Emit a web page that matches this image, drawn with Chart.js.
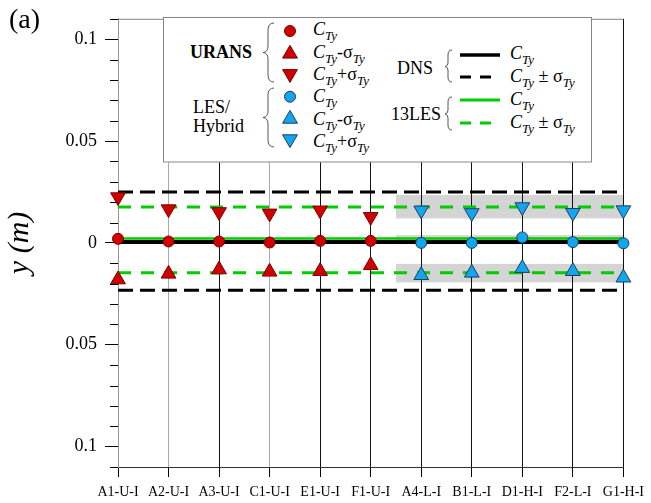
<!DOCTYPE html>
<html>
<head>
<meta charset="utf-8">
<script src="https://cdn.jsdelivr.net/npm/chart.js@4.4.0/dist/chart.umd.min.js"></script>
<style>
  html, body { margin: 0; padding: 0; background: #fff; }
  #wrap { position: relative; width: 651px; height: 503px; overflow: hidden; }
  #c { position: absolute; left: 0; top: 0; }
  #tag { position: absolute; left: 9px; top: 5px; font: 28px 'Liberation Serif', 'Times New Roman', serif; color: #000; line-height: 1; }
  #lg { position: absolute; left: 0; top: 0; }
</style>
</head>
<body>
<div id="wrap">
  <canvas id="c" width="651" height="503"></canvas>
  <div id="tag">(a)</div>
  <svg id="lg" width="651" height="503" xmlns="http://www.w3.org/2000/svg"
       font-family="'Liberation Serif','Times New Roman',serif" fill="#000">
    <rect x="163.5" y="17.5" width="428" height="144.5" fill="#fff" stroke="#888" stroke-width="1"/>

    <!-- URANS group -->
    <text x="190" y="58" font-size="18" font-weight="bold">URANS</text>
    <path d="M274 23 Q268 23 268 30 L268 46 Q268 52 263 52.5 Q268 53 268 59 L268 75 Q268 82 274 82" fill="none" stroke="#555" stroke-width="1"/>
    <circle cx="290" cy="31" r="5.5" fill="#d00000" stroke="#7a0000" stroke-width="1"/>
    <polygon points="290,45.3 297.4,58.1 282.6,58.1" fill="#d00000" stroke="#7a0000" stroke-width="1"/>
    <polygon points="290,82.4 297.4,69.6 282.6,69.6" fill="#d00000" stroke="#7a0000" stroke-width="1"/>
    <text x="313" y="35" font-size="18"><tspan font-style="italic">C</tspan><tspan font-style="italic" font-size="13" dy="5">Ty</tspan></text>
    <text x="313" y="58" font-size="18"><tspan font-style="italic">C</tspan><tspan font-style="italic" font-size="13" dy="5">Ty</tspan><tspan dy="-5">-σ</tspan><tspan font-style="italic" font-size="13" dy="5">Ty</tspan></text>
    <text x="313" y="80" font-size="18"><tspan font-style="italic">C</tspan><tspan font-style="italic" font-size="13" dy="5">Ty</tspan><tspan dy="-5">+σ</tspan><tspan font-style="italic" font-size="13" dy="5">Ty</tspan></text>

    <!-- LES/Hybrid group -->
    <text x="193" y="113" font-size="18">LES/</text>
    <text x="193" y="132" font-size="18">Hybrid</text>
    <path d="M274 88 Q268 88 268 95 L268 111 Q268 117 263 117.5 Q268 118 268 124 L268 140 Q268 147 274 147" fill="none" stroke="#555" stroke-width="1"/>
    <circle cx="290" cy="96.7" r="5.5" fill="#12a6ee" stroke="#1d3d5c" stroke-width="1"/>
    <polygon points="290,110.4 297.4,123.2 282.6,123.2" fill="#12a6ee" stroke="#1d3d5c" stroke-width="1"/>
    <polygon points="290,147.6 297.4,134.8 282.6,134.8" fill="#12a6ee" stroke="#1d3d5c" stroke-width="1"/>
    <text x="313" y="102" font-size="18"><tspan font-style="italic">C</tspan><tspan font-style="italic" font-size="13" dy="5">Ty</tspan></text>
    <text x="313" y="124.5" font-size="18"><tspan font-style="italic">C</tspan><tspan font-style="italic" font-size="13" dy="5">Ty</tspan><tspan dy="-5">-σ</tspan><tspan font-style="italic" font-size="13" dy="5">Ty</tspan></text>
    <text x="313" y="147" font-size="18"><tspan font-style="italic">C</tspan><tspan font-style="italic" font-size="13" dy="5">Ty</tspan><tspan dy="-5">+σ</tspan><tspan font-style="italic" font-size="13" dy="5">Ty</tspan></text>

    <!-- DNS and 13LES reference lines -->
    <text x="397" y="74" font-size="18">DNS</text>
    <path d="M452 50 Q448 50 448 55 L448 63 Q448 66 445 66.5 Q448 67 448 70 L448 77 Q448 82 452 82" fill="none" stroke="#555" stroke-width="1"/>
    <line x1="460" y1="55" x2="500" y2="55" stroke="#000" stroke-width="3.5"/>
    <line x1="460" y1="77" x2="492" y2="77" stroke="#000" stroke-width="3" stroke-dasharray="11 9"/>
    <text x="510" y="59" font-size="18"><tspan font-style="italic">C</tspan><tspan font-style="italic" font-size="13" dy="5">Ty</tspan></text>
    <text x="510" y="82" font-size="18"><tspan font-style="italic">C</tspan><tspan font-style="italic" font-size="13" dy="5">Ty</tspan><tspan dy="-5"> ± σ</tspan><tspan font-style="italic" font-size="13" dy="5">Ty</tspan></text>

    <text x="391" y="120" font-size="18">13LES</text>
    <path d="M452 97 Q448 97 448 102 L448 110 Q448 113.5 445 114 Q448 114.5 448 118 L448 125 Q448 130 452 130" fill="none" stroke="#555" stroke-width="1"/>
    <line x1="460" y1="100" x2="500" y2="100" stroke="#00cc00" stroke-width="3"/>
    <line x1="460" y1="123" x2="492" y2="123" stroke="#00cc00" stroke-width="3" stroke-dasharray="11 9"/>
    <text x="510" y="105" font-size="18"><tspan font-style="italic">C</tspan><tspan font-style="italic" font-size="13" dy="5">Ty</tspan></text>
    <text x="510" y="128" font-size="18"><tspan font-style="italic">C</tspan><tspan font-style="italic" font-size="13" dy="5">Ty</tspan><tspan dy="-5"> ± σ</tspan><tspan font-style="italic" font-size="13" dy="5">Ty</tspan></text>
  </svg>
</div>
<script>
// Test cases along the x axis
const categories = ['A1-U-I', 'A2-U-I', 'A3-U-I', 'C1-U-I', 'E1-U-I', 'F1-U-I',
                    'A4-L-I', 'B1-L-I', 'D1-H-I', 'F2-L-I', 'G1-H-I'];

// URANS cases: mean C_Ty and C_Ty -/+ sigma (m)
const uransCases = ['A1-U-I', 'A2-U-I', 'A3-U-I', 'C1-U-I', 'E1-U-I', 'F1-U-I'];
const uransMean  = [0.0020, 0.0007, 0.0007, 0.0002, 0.0010, 0.0010];
const uransMinus = [-0.0180, -0.0152, -0.0131, -0.0142, -0.0139, -0.0110];
const uransPlus  = [0.0225, 0.0166, 0.0152, 0.0145, 0.0160, 0.0128];

// LES / hybrid cases
const lesCases = ['A4-L-I', 'B1-L-I', 'D1-H-I', 'F2-L-I', 'G1-H-I'];
const lesMean  = [0.0000, 0.0000, 0.0027, 0.0004, -0.0002];
const lesMinus = [-0.0159, -0.0147, -0.0124, -0.0139, -0.0171];
const lesPlus  = [0.0160, 0.0147, 0.0176, 0.0148, 0.0161];

// Reference levels: DNS and the 13-LES ensemble (mean, +sigma, -sigma)
const dnsLevels   = [0.0005, 0.0250, -0.0232];
const les13Levels = [0.0022, 0.0176, -0.0146];

// Shaded spread of the LES/hybrid results: [top, bottom] in m, over x from..to
const shadeRanges = [[0.0235, 0.0120], [0.0038, -0.0006], [-0.0103, -0.0194]];
const shadeFrom = 5.5;
const shadeTo = 10;

// Tick settings
const yTickStep = 0.01;
const yLabelEvery = 5;   // label every 0.05 m

const SERIF = "'Liberation Serif', 'Times New Roman', serif";
const RED = '#d00000', RED_EDGE = '#7a0000';
const BLUE = '#12a6ee', BLUE_EDGE = '#1d3d5c';
const GREEN = '#00cc00';

const gridColors = ['#9a9a9a', '#aaaaaa', '#111111', '#aaaaaa', '#111111', '#111111',
                    '#111111', '#111111', '#111111', '#111111', '#111111'];

const pts = (cases, vals) => cases.map((c, i) => ({ x: categories.indexOf(c), y: vals[i] }));
const hline = (v) => [{ x: 0, y: v }, { x: categories.length - 1, y: v }];
const isMajor = (v) => Math.abs(Math.round(v / yTickStep)) % yLabelEvery === 0;

function markerSet(label, data, color, edge, style, rotation, radius) {
  return {
    label, data, showLine: false, clip: false, order: 0,
    pointStyle: style, rotation, pointRadius: radius, pointHoverRadius: radius,
    pointBackgroundColor: color, pointBorderColor: edge, pointBorderWidth: 1
  };
}
function lineSet(label, v, color, width, dash) {
  return {
    label, data: hline(v), showLine: true, pointRadius: 0, order: 5,
    borderColor: color, borderWidth: width, borderDash: dash || [], fill: false
  };
}

const frame = {
  id: 'frame',
  beforeDraw(chart) {
    const { ctx, scales: { x, y } } = chart;
    ctx.save();
    ctx.fillStyle = '#d4d4d4';
    shadeRanges.forEach(([top, bot]) => {
      const x0 = x.getPixelForValue(shadeFrom), x1 = x.getPixelForValue(shadeTo);
      const y0 = y.getPixelForValue(top), y1 = y.getPixelForValue(bot);
      ctx.fillRect(x0, y0, x1 - x0, y1 - y0);
    });
    ctx.restore();
  },
  afterDraw(chart) {
    const { ctx, chartArea: a, scales: { y } } = chart;
    ctx.save();
    ctx.strokeStyle = '#888';
    ctx.lineWidth = 1;
    ctx.beginPath();
    ctx.moveTo(a.left, a.top + 0.5);
    ctx.lineTo(a.right, a.top + 0.5);
    ctx.stroke();
    // minor ticks on the y axis
    ctx.strokeStyle = '#000';
    y.ticks.forEach((t) => {
      if (isMajor(t.value)) return;
      const py = Math.round(y.getPixelForValue(t.value)) + 0.5;
      ctx.beginPath();
      ctx.moveTo(a.left - 8, py);
      ctx.lineTo(a.left, py);
      ctx.stroke();
    });
    ctx.restore();
  }
};

new Chart(document.getElementById('c'), {
  type: 'scatter',
  data: {
    datasets: [
      markerSet('URANS C', pts(uransCases, uransMean), RED, RED_EDGE, 'circle', 0, 5.5),
      markerSet('URANS C-s', pts(uransCases, uransMinus), RED, RED_EDGE, 'triangle', 0, 8.5),
      markerSet('URANS C+s', pts(uransCases, uransPlus), RED, RED_EDGE, 'triangle', 180, 8.5),
      markerSet('LES C', pts(lesCases, lesMean), BLUE, BLUE_EDGE, 'circle', 0, 5.5),
      markerSet('LES C-s', pts(lesCases, lesMinus), BLUE, BLUE_EDGE, 'triangle', 0, 8.5),
      markerSet('LES C+s', pts(lesCases, lesPlus), BLUE, BLUE_EDGE, 'triangle', 180, 8.5),
      lineSet('13LES mean', les13Levels[0], GREEN, 2.5),
      lineSet('13LES +s', les13Levels[1], GREEN, 3, [13, 10]),
      lineSet('13LES -s', les13Levels[2], GREEN, 3, [13, 10]),
      lineSet('DNS mean', dnsLevels[0], '#000', 4),
      lineSet('DNS +s', dnsLevels[1], '#000', 3, [15, 7]),
      lineSet('DNS -s', dnsLevels[2], '#000', 3, [15, 7])
    ]
  },
  options: {
    responsive: false,
    animation: false,
    events: [],
    layout: { padding: { left: 0, top: 13, right: 23, bottom: 0 } },
    plugins: { legend: { display: false }, tooltip: { enabled: false } },
    scales: {
      x: {
        type: 'linear',
        min: 0,
        max: categories.length - 1,
        afterFit: (s) => { s.height = 36; },
        afterBuildTicks: (s) => { s.ticks = categories.map((_, i) => ({ value: i })); },
        ticks: {
          autoSkip: false, maxRotation: 0, padding: 7, color: '#000',
          font: { family: SERIF, size: 14 },
          callback: (v) => categories[v]
        },
        grid: {
          color: (ctx) => gridColors[ctx.index] || '#111',
          lineWidth: 1, drawTicks: true, tickLength: 10, tickColor: '#000'
        },
        border: { display: true, color: '#333' }
      },
      y: {
        min: -0.11,
        max: 0.11,
        afterFit: (s) => { s.width = 118; },
        ticks: {
          stepSize: yTickStep, autoSkip: false, padding: 8, color: '#000',
          font: { family: SERIF, size: 18 },
          callback: (v) => isMajor(v) ? String(Math.abs(Math.round(v * 100)) / 100) : ''
        },
        grid: {
          drawOnChartArea: false, drawTicks: true, tickLength: 13,
          tickColor: (ctx) => (ctx.tick && isMajor(ctx.tick.value)) ? '#000' : 'rgba(0,0,0,0)'
        },
        border: { display: true, color: '#999' },
        title: {
          display: true, text: 'y (m)', color: '#000',
          font: { family: SERIF, size: 30, style: 'italic' },
          padding: { top: 2, bottom: 0 }
        }
      }
    }
  },
  plugins: [frame]
});
</script>
</body>
</html>
